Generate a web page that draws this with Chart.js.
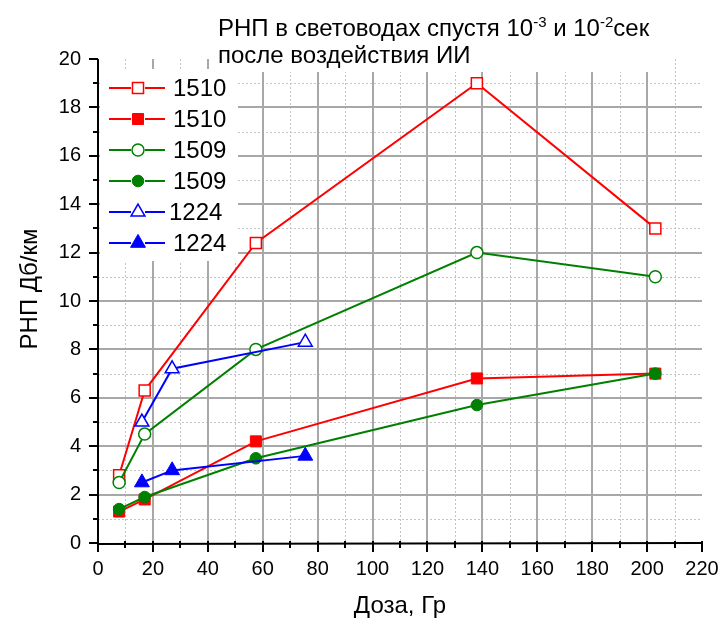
<!DOCTYPE html>
<html>
<head>
<meta charset="utf-8">
<script src="https://cdn.jsdelivr.net/npm/chart.js@4.4.1/dist/chart.umd.min.js"></script>
<style>
  html, body { margin: 0; padding: 0; background: #fff; }
  #wrap { width: 720px; height: 619px; position: relative; }
</style>
</head>
<body>
<div id="wrap"><canvas id="c" width="720" height="619"></canvas></div>
<script>
// Dose values (Gy) for each fibre group
const doseFiber = [7.7, 17, 57.5, 138, 203];
const dose1224 = [16, 27, 75.5];

// Radiation-induced loss, dB/km (open markers: 10^-3 s, filled: 10^-2 s)
const rnp1510_early = [2.8, 6.3, 12.4, 19.0, 13.0];
const rnp1510_late  = [1.3, 1.8, 4.2, 6.8, 7.0];
const rnp1509_early = [2.5, 4.5, 8.0, 12.0, 11.0];
const rnp1509_late  = [1.4, 1.9, 3.5, 5.7, 7.0];
const rnp1224_early = [5.0, 7.2, 8.3];
const rnp1224_late  = [2.5, 3.0, 3.6];

const seriesLabels = ['1510', '1510', '1509', '1509', '1224', '1224'];

// Axis ranges and tick steps
const xRange = [0, 220], xMajor = 20, xMinor = 10;
const yRange = [0, 20],  yMajor = 2,  yMinor = 1;

const titleLine1 = [['РНП в световодах спустя 10', false], ['-3', true], [' и 10', false], ['-2', true], ['сек', false]];
const titleLine2 = 'после воздействия ИИ';
const xTitle = 'Доза, Гр';
const yTitle = 'РНП Дб/км';

const FONT = "'Liberation Sans', Arial, Helvetica, sans-serif";
const RED = '#ff0000', GREEN = '#008000', BLUE = '#0000ff';

const pts = (xs, ys) => xs.map((x, i) => ({ x, y: ys[i] }));

function series(label, xs, ys, color, style, open, radius, order) {
  return {
    label,
    data: pts(xs, ys),
    borderColor: color,
    backgroundColor: color,
    borderWidth: 2,
    pointStyle: style,
    pointRadius: radius,
    pointHoverRadius: radius,
    pointBackgroundColor: open ? '#ffffff' : color,
    pointBorderColor: color,
    pointBorderWidth: open ? 1.5 : 1,
    tension: 0,
    fill: false,
    order
  };
}

const datasets = [
  series(seriesLabels[0], doseFiber, rnp1510_early, RED,   'rect',     true,  7.8, 5),
  series(seriesLabels[1], doseFiber, rnp1510_late,  RED,   'rect',     false, 7.8, 4),
  series(seriesLabels[2], doseFiber, rnp1509_early, GREEN, 'circle',   true,  6,   3),
  series(seriesLabels[3], doseFiber, rnp1509_late,  GREEN, 'circle',   false, 5.8, 2),
  series(seriesLabels[4], dose1224,  rnp1224_early, BLUE,  'triangle', true,  8,   1),
  series(seriesLabels[5], dose1224,  rnp1224_late,  BLUE,  'triangle', false, 8.6, 0)
];

function drawMarker(ctx, style, x, y, r, fill, stroke, lw) {
  ctx.save();
  ctx.beginPath();
  if (style === 'rect') {
    const s = r * Math.SQRT1_2;
    ctx.rect(x - s, y - s, 2 * s, 2 * s);
  } else if (style === 'circle') {
    ctx.arc(x, y, r, 0, Math.PI * 2);
  } else {
    ctx.moveTo(x, y - r);
    ctx.lineTo(x + r * Math.sin(2 * Math.PI / 3), y - r * Math.cos(2 * Math.PI / 3));
    ctx.lineTo(x + r * Math.sin(4 * Math.PI / 3), y - r * Math.cos(4 * Math.PI / 3));
    ctx.closePath();
  }
  ctx.fillStyle = fill;
  ctx.fill();
  ctx.lineWidth = lw;
  ctx.strokeStyle = stroke;
  ctx.stroke();
  ctx.restore();
}

const decor = {
  id: 'decor',
  beforeDatasetsDraw(chart) {
    const { ctx, chartArea: a, scales: { x, y } } = chart;
    ctx.save();
    // minor dotted grid
    ctx.strokeStyle = '#c4c4c4';
    ctx.lineWidth = 1;
    ctx.setLineDash([2, 2]);
    for (let v = xRange[0] + xMinor; v < xRange[1]; v += xMajor) {
      const px = Math.round(x.getPixelForValue(v)) + 0.5;
      ctx.beginPath(); ctx.moveTo(px, a.top); ctx.lineTo(px, a.bottom); ctx.stroke();
    }
    for (let v = yRange[0] + yMinor; v < yRange[1]; v += yMajor) {
      const py = Math.round(y.getPixelForValue(v)) + 0.5;
      ctx.beginPath(); ctx.moveTo(a.left, py); ctx.lineTo(a.right, py); ctx.stroke();
    }
    // major solid grid
    ctx.setLineDash([]);
    ctx.strokeStyle = '#a8a8a8';
    ctx.lineWidth = 2;
    for (let v = xRange[0] + xMajor; v < xRange[1]; v += xMajor) {
      const px = Math.round(x.getPixelForValue(v));
      ctx.beginPath(); ctx.moveTo(px, a.top); ctx.lineTo(px, a.bottom); ctx.stroke();
    }
    for (let v = yRange[0] + yMajor; v < yRange[1]; v += yMajor) {
      const py = Math.round(y.getPixelForValue(v));
      ctx.beginPath(); ctx.moveTo(a.left, py); ctx.lineTo(a.right, py); ctx.stroke();
    }
    // white panels behind the title and legend
    ctx.fillStyle = '#ffffff';
    ctx.fillRect(212, 0, 450, 72);
    ctx.fillRect(100, 69, 138, 192);

    // axes with outward ticks
    ctx.strokeStyle = '#000000';
    ctx.lineWidth = 2;
    const x0 = Math.round(a.left), y0 = Math.round(a.bottom);
    ctx.beginPath(); ctx.moveTo(x0, a.top); ctx.lineTo(x0, y0 + 1); ctx.lineTo(Math.round(a.right) + 1, y0); ctx.stroke();
    for (let v = xRange[0]; v <= xRange[1]; v += xMinor) {
      const px = Math.round(x.getPixelForValue(v));
      const len = (v % xMajor === 0) ? 9 : 5;
      ctx.beginPath(); ctx.moveTo(px, y0 - 2); ctx.lineTo(px, y0 + len); ctx.stroke();
    }
    for (let v = yRange[0]; v <= yRange[1]; v += yMinor) {
      const py = Math.round(y.getPixelForValue(v));
      const len = (v % yMajor === 0) ? 9 : 5;
      ctx.beginPath(); ctx.moveTo(x0, py); ctx.lineTo(x0 - len, py); ctx.stroke();
    }
    ctx.restore();
  },
  afterDraw(chart) {
    const { ctx, chartArea: a } = chart;
    ctx.save();
    ctx.fillStyle = '#000000';
    ctx.textBaseline = 'alphabetic';
    ctx.textAlign = 'left';

    // title with superscripts
    let tx = 218;
    for (const [t, sup] of titleLine1) {
      ctx.font = (sup ? '15px ' : '24px ') + FONT;
      ctx.fillText(t, tx, sup ? 27 : 36);
      tx += ctx.measureText(t).width;
    }
    ctx.font = '24px ' + FONT;
    ctx.fillText(titleLine2, 218, 63);

    // axis titles
    ctx.font = '24px ' + FONT;
    ctx.textAlign = 'center';
    ctx.fillText(xTitle, (a.left + a.right) / 2, 613);
    ctx.save();
    ctx.translate(37, 289);
    ctx.rotate(-Math.PI / 2);
    ctx.fillText(yTitle, 0, 0);
    ctx.restore();

    // legend
    const rowY0 = 88, rowStep = 30.9;
    const textNudge = [0, 0, 0, 0, -4, 0];
    ctx.font = '24px ' + FONT;
    ctx.textAlign = 'left';
    ctx.textBaseline = 'middle';
    chart.data.datasets.forEach((ds, i) => {
      const ry = Math.round(rowY0 + i * rowStep);
      ctx.strokeStyle = ds.borderColor;
      ctx.lineWidth = 2;
      ctx.beginPath();
      ctx.moveTo(109, ry); ctx.lineTo(131, ry);
      ctx.moveTo(145, ry); ctx.lineTo(165, ry);
      ctx.stroke();
      drawMarker(ctx, ds.pointStyle, 138, ry, ds.pointRadius, ds.pointBackgroundColor, ds.pointBorderColor, ds.pointBorderWidth);
      ctx.fillStyle = '#000000';
      ctx.fillText(ds.label, 173 + textNudge[i], ry + 1);
    });
    ctx.restore();
  }
};

new Chart(document.getElementById('c'), {
  type: 'line',
  data: { datasets },
  options: {
    responsive: false,
    animation: false,
    devicePixelRatio: 1,
    layout: { padding: { top: 59, right: 18, left: 0, bottom: 0 } },
    plugins: { legend: { display: false }, tooltip: { enabled: false }, title: { display: false } },
    scales: {
      x: {
        type: 'linear',
        min: xRange[0], max: xRange[1],
        grid: { display: false, drawTicks: false },
        border: { display: false },
        ticks: { stepSize: xMajor, color: '#000', padding: 14, font: { family: FONT, size: 20 }, maxRotation: 0, autoSkip: false },
        afterFit(s) { s.height = 76; s.paddingLeft = 0; s.paddingRight = 0; }
      },
      y: {
        type: 'linear',
        min: yRange[0], max: yRange[1],
        grid: { display: false, drawTicks: false },
        border: { display: false },
        ticks: { stepSize: yMajor, color: '#000', padding: 17, font: { family: FONT, size: 20 }, autoSkip: false },
        afterFit(s) { s.width = 98; s.paddingTop = 0; s.paddingBottom = 0; }
      }
    }
  },
  plugins: [decor]
});
</script>
</body>
</html>
